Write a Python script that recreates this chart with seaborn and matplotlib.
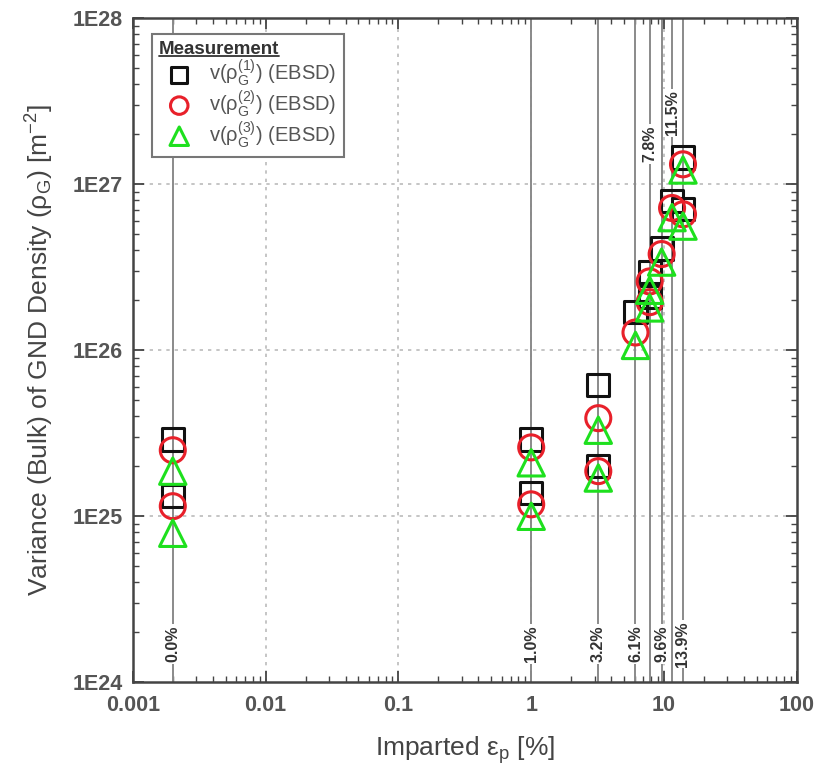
import numpy as np
import pandas as pd
import matplotlib
matplotlib.use("Agg")
import matplotlib.pyplot as plt
import seaborn as sns
from matplotlib.lines import Line2D

# ---------------- data ----------------
strain_labels = ['0.0%', '1.0%', '3.2%', '6.1%', '7.8%', '9.6%', '11.5%', '13.9%']
strain_x = [0.002, 1.0, 3.2, 6.1, 7.8, 9.6, 11.5, 13.9]
label_on_top = [False, False, False, False, True, False, True, False]

pts_x = [0.002, 0.002, 1.0, 1.0, 3.2, 3.2, 6.1, 7.8, 7.8, 9.6, 11.5, 13.9, 13.9]
v1_y = [2.9e25, 1.32e25, 2.9e25, 1.38e25, 6.2e25, 2.0e25, 1.7e26, 2.97e26, 2.1e26, 4.1e26, 7.9e26, 1.45e27, 7.1e26]
v2_y = [2.5e25, 1.15e25, 2.6e25, 1.18e25, 3.9e25, 1.87e25, 1.28e26, 2.6e26, 1.95e26, 3.8e26, 7.2e26, 1.32e27, 6.6e26]
v3_y = [1.87e25, 7.9e24, 2.1e25, 1.0e25, 3.3e25, 1.7e25, 1.07e26, 2.3e26, 1.8e26, 3.4e26, 6.3e26, 1.22e27, 5.6e26]

series_names = [r'v(ρ$_{\rm G}^{(1)}$) (EBSD)', r'v(ρ$_{\rm G}^{(2)}$) (EBSD)', r'v(ρ$_{\rm G}^{(3)}$) (EBSD)']
series_colors = ['#111111', '#e8202a', '#1ee01e']
series_markers = ['s', 'o', '^']
series_sizes = [16, 18, 19]

xtick_vals = [0.001, 0.01, 0.1, 1, 10, 100]
xtick_labels = ['0.001', '0.01', '0.1', '1', '10', '100']
ytick_vals = [1e24, 1e25, 1e26, 1e27, 1e28]
ytick_labels = ['1E24', '1E25', '1E26', '1E27', '1E28']

# ---------------- style ----------------
sns.set_style('ticks')
plt.rcParams['font.family'] = ['Liberation Sans', 'DejaVu Sans']
plt.rcParams['mathtext.fontset'] = 'custom'
plt.rcParams['mathtext.rm'] = 'Liberation Sans'
plt.rcParams['mathtext.it'] = 'Liberation Sans:italic'
plt.rcParams['mathtext.bf'] = 'Liberation Sans:bold'

fig = plt.figure(figsize=(8.3, 7.64), dpi=100)
ax = fig.add_axes([0.160, 0.107, 0.800, 0.869])
ax.set_xscale('log')
ax.set_yscale('log')
ax.set_xlim(1e-3, 1e2)
ax.set_ylim(1e24, 1e28)

# grid
for v in xtick_vals[1:-1]:
    ax.axvline(v, color='#bbbbbb', lw=1.2, ls=(0, (2, 3)), zorder=0)
for v in ytick_vals[1:-1]:
    ax.axhline(v, color='#bbbbbb', lw=1.2, ls=(0, (2, 3)), zorder=0)

# strain lines + labels
for xv, lab, top in zip(strain_x, strain_labels, label_on_top):
    ax.axvline(xv, color='#8a8a8a', lw=1.4, zorder=1)
    ypos = 2.7e27 if (top and lab == '11.5%') else (1.75e27 if top else 1.7e24)
    ax.text(xv, ypos, lab, rotation=90, ha='center', va='center', fontsize=11.5,
            fontweight='bold', color='#333333', zorder=2,
            bbox=dict(facecolor='white', edgecolor='none', pad=1.0))

# markers
for ys, name, col, mk, ms in zip([v1_y, v2_y, v3_y], series_names, series_colors,
                                 series_markers, series_sizes):
    df = pd.DataFrame({'x': pts_x, 'y': ys})
    sns.scatterplot(data=df, x='x', y='y', marker=mk, s=ms ** 2, facecolor='none',
                    edgecolor=col, linewidth=2.2, label=name, ax=ax, zorder=3)

ax.set_xticks(xtick_vals)
ax.set_xticklabels(xtick_labels)
ax.set_yticks(ytick_vals)
ax.set_yticklabels(ytick_labels)
ax.tick_params(which='both', direction='in', top=True, right=True, color='#444444')
ax.tick_params(which='major', length=8, width=1.3, labelsize=15.5, labelcolor='#555555')
ax.tick_params(axis='x', which='major', pad=9)
ax.tick_params(axis='y', which='major', pad=7)
ax.tick_params(which='minor', length=4, width=1.0)
for t in ax.get_xticklabels() + ax.get_yticklabels():
    t.set_fontweight('bold')
for s in ax.spines.values():
    s.set_color('#444444')
    s.set_linewidth(1.8)

ax.set_xlabel(r'Imparted ε$_{\rm p}$ [%]', fontsize=19, color='#444444', labelpad=13)
ax.set_ylabel(r'Variance (Bulk) of GND Density (ρ$_{\rm G}$) [m$^{-2}$]', fontsize=19,
              color='#444444', labelpad=12)

leg = ax.legend(loc='upper left', bbox_to_anchor=(0.029, 0.977), borderaxespad=0,
                title='Measurement', alignment='left', fontsize=14.5, title_fontsize=13.5,
                frameon=True, fancybox=False, framealpha=1, edgecolor='#777777',
                handletextpad=0.5, labelspacing=0.0, borderpad=0.35, markerscale=0.7,
                handlelength=2.0)
leg.get_title().set_fontweight('bold')
leg.get_title().set_color('#333333')
for t in leg.get_texts():
    t.set_color('#555555')
leg.get_frame().set_linewidth(1.5)

fig.canvas.draw()
r = fig.canvas.get_renderer()
bb = leg.get_title().get_window_extent(r)
inv = fig.transFigure.inverted()
x0, y0 = inv.transform((bb.x0, bb.y0 + 2))
x1, _ = inv.transform((bb.x1, bb.y0 + 2))
fig.add_artist(Line2D([x0, x1], [y0, y0], transform=fig.transFigure, color='#333333', lw=1.3))

fig.savefig('out.png', dpi=100)
